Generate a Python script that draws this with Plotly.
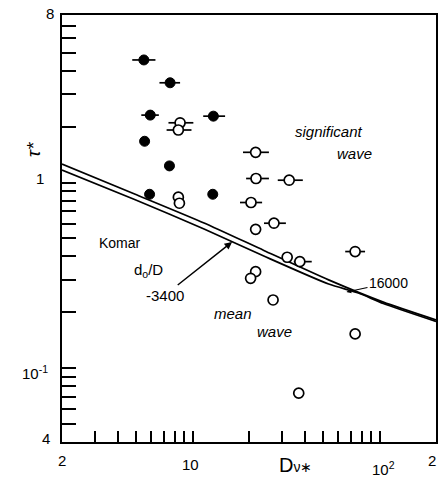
import math
import plotly.graph_objects as go

# ---------------- data ----------------
filled_x = [5.48, 7.57, 5.93, 12.9, 5.53, 7.51, 5.88, 12.8]
filled_y = [4.58, 3.45, 2.31, 2.28, 1.67, 1.23, 0.865, 0.865]
filled_lo = [4.75, 6.64, 5.31, 11.38, None, None, None, None]
filled_hi = [6.32, 8.56, 6.59, 14.9, None, None, None, None]

open_x = [8.56, 8.38, 21.7, 21.8, 32.8, 20.5, 8.38, 8.49, 27.2, 21.7, 32.0,
          37.4, 73.9, 21.7, 20.4, 26.9, 73.9, 36.9]
open_y = [2.10, 1.92, 1.456, 1.052, 1.03, 0.781, 0.834, 0.774, 0.604, 0.560,
          0.396, 0.375, 0.425, 0.331, 0.305, 0.233, 0.153, 0.0733]
open_lo = [7.42, 7.25, 18.58, 19.3, 28.5, 17.9, None, None, 24.05, None, None,
           34.7, 65.4, None, None, None, None, None]
open_hi = [10.08, 9.85, 25.56, 25.56, 38.8, 23.5, None, None, 31.5, None, None,
           43.3, 83.5, None, None, None, None, None]

# Komar curves (d0/D = 3400 and 16000)
komar_a_x = [2.0, 4.89, 11.5, 24.0, 53.3, 104.5, 200.0]
komar_a_y = [1.26, 0.868, 0.606, 0.431, 0.299, 0.227, 0.182]
komar_b_x = [2.0, 4.89, 11.5, 24.0, 53.3, 76.9, 104.5, 200.0]
komar_b_y = [1.169, 0.811, 0.562, 0.402, 0.284, 0.254, 0.223, 0.1785]

x_tick_vals = [3, 4, 5, 6, 7, 8, 9, 10, 20, 30, 40, 50, 60, 70, 80, 90, 100]
y_tick_vals = [0.05, 0.06, 0.07, 0.08, 0.09, 0.1, 0.2, 0.3, 0.4, 0.5, 0.6,
               0.7, 0.8, 0.9, 1, 2, 3, 4, 5, 6, 7]
x_label_vals = [2, 10, 100, 200]
x_label_text = ["2", "10", "10<sup>2</sup>", "2"]
y_label_vals = [8, 1, 0.1, 0.04]
y_label_text = ["8", "1", "10<sup>-1</sup>", "4"]

FONT = "Liberation Sans"


def errs(xs, lo, hi):
    plus = [(h - x) if h is not None else 0 for x, h in zip(xs, hi)]
    minus = [(x - l) if l is not None else 0 for x, l in zip(xs, lo)]
    return plus, minus


fig = go.Figure()

fig.add_trace(go.Scatter(x=komar_a_x, y=komar_a_y, mode="lines",
                         line=dict(color="black", width=1.7, shape="spline", smoothing=0.6),
                         hoverinfo="skip", showlegend=False))
fig.add_trace(go.Scatter(x=komar_b_x, y=komar_b_y, mode="lines",
                         line=dict(color="black", width=1.7, shape="spline", smoothing=0.6),
                         hoverinfo="skip", showlegend=False))

fp, fm = errs(filled_x, filled_lo, filled_hi)
fig.add_trace(go.Scatter(
    x=filled_x, y=filled_y, mode="markers",
    marker=dict(symbol="circle", size=10, color="black", line=dict(color="black", width=1)),
    error_x=dict(type="data", symmetric=False, array=fp, arrayminus=fm,
                 color="black", thickness=1.7, width=0),
    showlegend=False))

op, om = errs(open_x, open_lo, open_hi)
fig.add_trace(go.Scatter(
    x=open_x, y=open_y, mode="markers",
    marker=dict(symbol="circle", size=10, color="white", line=dict(color="black", width=1.7)),
    error_x=dict(type="data", symmetric=False, array=op, arrayminus=om,
                 color="black", thickness=1.7, width=0),
    showlegend=False))

W, H = 445, 490
L, R, T, B = 62, 7, 15, 48


def pp(px, py):
    return (px - L) / (W - L - R), 1 - (py - T) / (H - T - B)


ann = []
# tick labels
x_shift = {2: (0, 0), 10: (-2, -4), 100: (4, -7), 200: (-4, 0)}
for v, t in zip(x_label_vals, x_label_text):
    dx, dy = x_shift[v]
    ann.append(dict(x=math.log10(v), y=0, xref="x", yref="paper", text=t,
                    showarrow=False, yanchor="top", xanchor="center",
                    xshift=dx, yshift=-8 + dy,
                    font=dict(family=FONT, size=15, color="black")))
y_shift = {8: (-6, 2), 1: (-16, 4), 0.1: (-12, -4), 0.04: (-10, 4)}
for v, t in zip(y_label_vals, y_label_text):
    dx, dy = y_shift[v]
    ann.append(dict(x=0, y=math.log10(v), xref="paper", yref="y", text=t,
                    showarrow=False, xanchor="right", yanchor="middle",
                    xshift=dx, yshift=dy,
                    font=dict(family=FONT, size=15, color="black")))


def text_at(px, py, s, size=14, italic=False, anchor="center"):
    x, y = pp(px, py)
    ann.append(dict(x=x, y=y, xref="paper", yref="paper", text=s, showarrow=False,
                    xanchor=anchor, yanchor="middle",
                    font=dict(family=FONT, size=size, color="black",
                              style="italic" if italic else "normal")))


text_at(330, 131, "significant", 15, True)
text_at(356, 153, "wave", 15, True)
text_at(120, 243, "Komar", 14, False)
text_at(149, 270, "d<sub>o</sub>/D", 15, False)
text_at(234, 313, "mean", 15, True)
text_at(276, 331, "wave", 15, True)

# labelled arrows (tip in paper coords, label centre as pixel offset)
ax0, ay0 = pp(233, 242)
ann.append(dict(x=ax0, y=ay0, xref="paper", yref="paper", ax=-67, ay=53,
                text="-3400", showarrow=True, standoff=0, startstandoff=0,
                font=dict(family=FONT, size=15, color="black"),
                arrowhead=2, arrowsize=1, arrowwidth=1.5, arrowcolor="black"))
bx0, by0 = pp(348, 292)
ann.append(dict(x=bx0, y=by0, xref="paper", yref="paper", ax=42, ay=-9,
                text="16000", showarrow=True,
                font=dict(family=FONT, size=14, color="black"),
                arrowhead=2, arrowsize=0.8, arrowwidth=1.2, arrowcolor="black"))

# axis titles
tx, ty = pp(21, 140)
ann.append(dict(x=tx, y=ty, xref="paper", yref="paper", text="τ*", textangle=-90,
                showarrow=False, font=dict(family=FONT, size=19, color="black",
                                           style="italic")))
dx_, dy_ = pp(297, 478)
ann.append(dict(x=dx_, y=dy_, xref="paper", yref="paper",
                text="D<span style='font-size:14px'>ν∗</span>",
                showarrow=False, font=dict(family=FONT, size=20, color="black")))

fig.update_layout(
    width=W, height=H,
    margin=dict(l=L, r=R, t=T, b=B),
    paper_bgcolor="white", plot_bgcolor="white",
    annotations=ann,
    xaxis=dict(type="log", range=[math.log10(2), math.log10(200)],
               showgrid=False, zeroline=False, showline=True, mirror=True,
               linecolor="black", linewidth=2,
               ticks="inside", ticklen=11, tickwidth=1.8, tickcolor="black",
               tickvals=x_tick_vals, showticklabels=False),
    yaxis=dict(type="log", range=[math.log10(0.04), math.log10(8)],
               showgrid=False, zeroline=False, showline=True, mirror=True,
               linecolor="black", linewidth=2,
               ticks="inside", ticklen=14, tickwidth=1.8, tickcolor="black",
               tickvals=y_tick_vals, showticklabels=False),
)

fig.write_html("out.html")
